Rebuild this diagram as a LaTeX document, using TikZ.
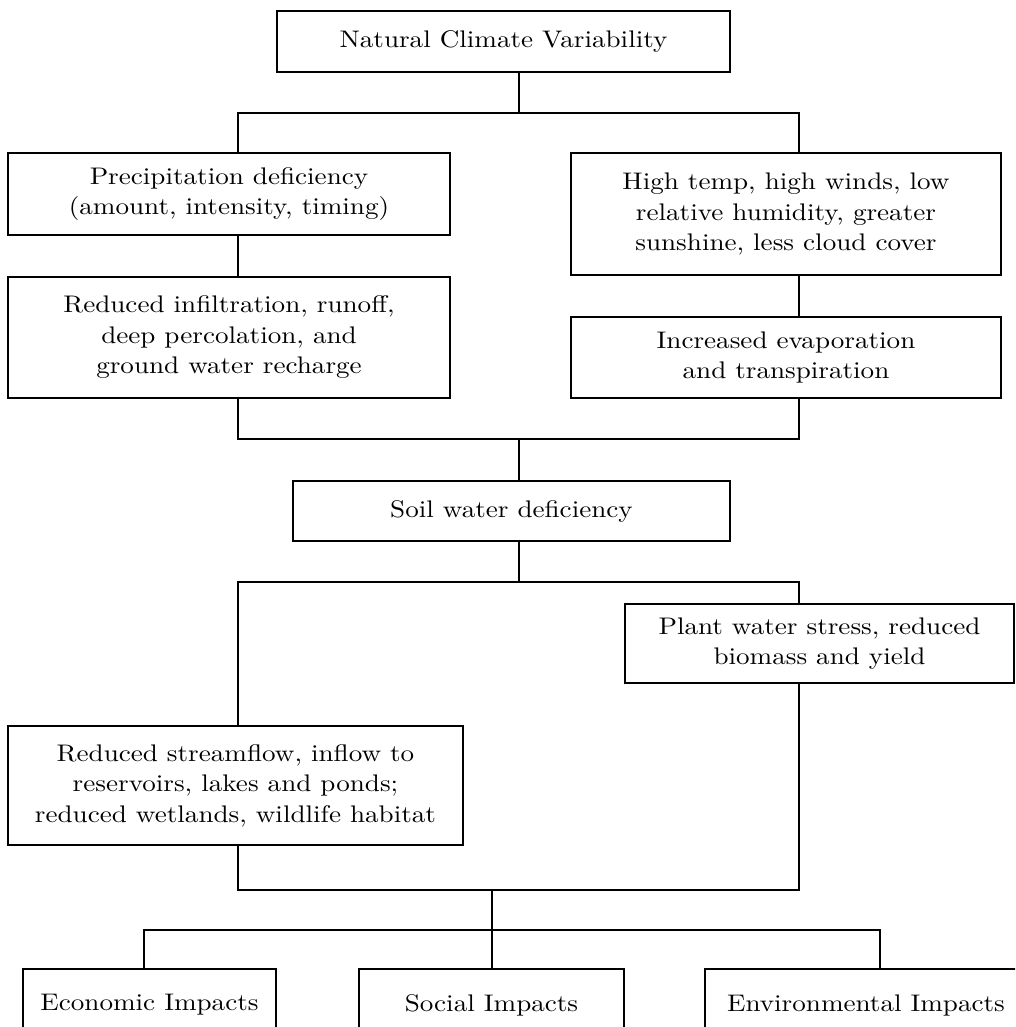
\documentclass[tikz,border=0pt]{standalone}
\usepackage{fontspec}
\newfontfamily\lblfont{lmroman10-regular}[Extension=.otf,FakeStretch=1.13]
\begin{document}
\begin{tikzpicture}[x=1pt,y=-1pt,
  box/.style={draw=black,line width=1.6pt,inner sep=0pt,align=center,
    font=\lblfont\fontsize{24}{30.5}\selectfont},
  conn/.style={draw=black,line width=1.4pt}]
\useasboundingbox (0,0) rectangle (1015,1027);
\clip (0,0) rectangle (1015,1027);
\fill[white] (0,0) rectangle (1015,1027);
% boxes
\node[box,minimum width=453pt,minimum height=61pt] (top) at (503.5,41.5) {Natural Climate Variability};
\node[box,minimum width=442pt,minimum height=82pt] (pd) at (229,194) {Precipitation deficiency\\(amount, intensity, timing)};
\node[box,minimum width=430pt,minimum height=122pt] (hi) at (786,214) {High temp, high winds, low\\relative humidity, greater\\sunshine, less cloud cover};
\node[box,minimum width=442pt,minimum height=121pt] (ri) at (229,337.5) {Reduced infiltration, runoff,\\deep percolation, and\\ground water recharge};
\node[box,minimum width=430pt,minimum height=81pt] (ie) at (786,357.5) {Increased evaporation\\and transpiration};
\node[box,minimum width=437pt,minimum height=60pt] (soil) at (511.5,511) {Soil water deficiency};
\node[box,minimum width=389pt,minimum height=79pt] (pw) at (819.5,643.5) {Plant water stress, reduced\\biomass and yield};
\node[box,minimum width=455pt,minimum height=119pt] (sf) at (235.5,785.5) {Reduced streamflow, inflow to\\reservoirs, lakes and ponds;\\reduced wetlands, wildlife habitat};
\node[box,minimum width=253pt,minimum height=72pt] (ec) at (149.5,1005) {Economic Impacts};
\node[box,minimum width=265pt,minimum height=72pt] (so) at (491.5,1005) {Social Impacts};
\node[box,minimum width=322pt,minimum height=72pt] (en) at (866,1005) {Environmental Impacts};
% junctions
\coordinate (jA) at (519,113); \coordinate (jAl) at (238,113); \coordinate (jAr) at (799,113);
\coordinate (jB) at (519,439); \coordinate (jBl) at (238,439); \coordinate (jBr) at (799,439);
\coordinate (jC) at (519,582); \coordinate (jCl) at (238,582); \coordinate (jCr) at (799,582);
\coordinate (jD) at (492,890); \coordinate (jDl) at (238,890); \coordinate (jDr) at (799,890);
\coordinate (jE) at (492,930); \coordinate (jEl) at (144,930); \coordinate (jEr) at (880,930);
% connectors
\draw[conn] (top.south -| jA) -- (jA);
\draw[conn] (pd.north -| jAl) -- (jAl) -- (jAr) -- (hi.north -| jAr);
\draw[conn] (pd.south -| jAl) -- (ri.north -| jAl);
\draw[conn] (hi.south -| jAr) -- (ie.north -| jAr);
\draw[conn] (ri.south -| jBl) -- (jBl) -- (jBr) -- (ie.south -| jBr);
\draw[conn] (jB) -- (soil.north -| jB);
\draw[conn] (soil.south -| jC) -- (jC);
\draw[conn] (sf.north -| jCl) -- (jCl) -- (jCr) -- (pw.north -| jCr);
\draw[conn] (sf.south -| jDl) -- (jDl) -- (jDr) -- (pw.south -| jDr);
\draw[conn] (jD) -- (jE);
\draw[conn] (ec.north -| jEl) -- (jEl) -- (jEr) -- (en.north -| jEr);
\draw[conn] (jE) -- (so.north -| jE);
\end{tikzpicture}
\end{document}
